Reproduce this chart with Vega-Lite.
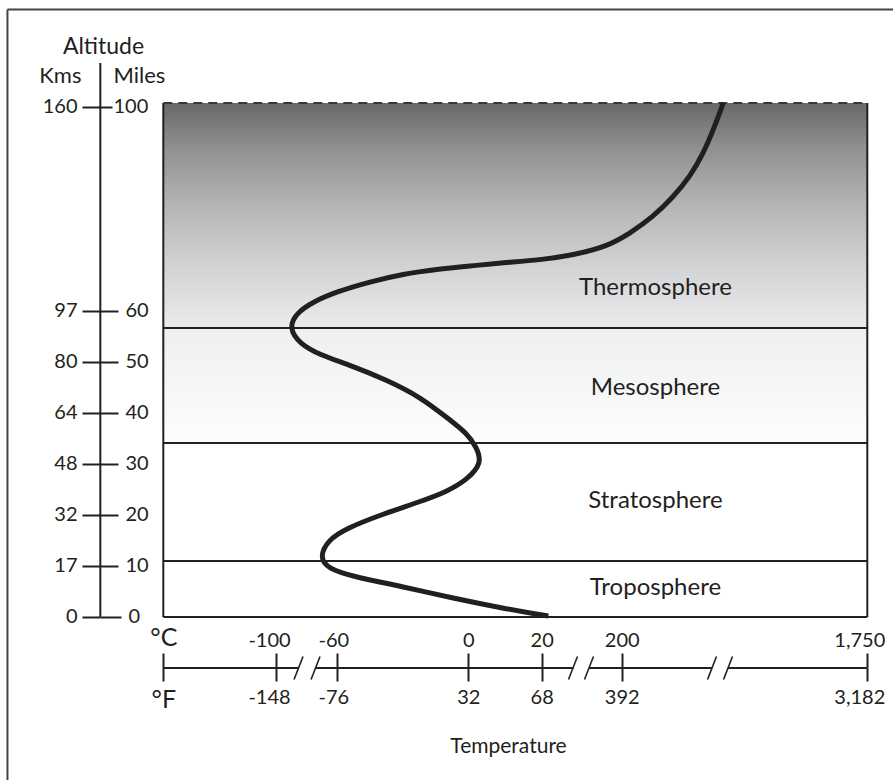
{
  "$schema": "https://vega.github.io/schema/vega-lite/v6.json",
  "width": 886,
  "height": 771,
  "autosize": {"type": "none"},
  "padding": {"left": 7, "top": 9, "right": 0, "bottom": 0},
  "background": "white",
  "config": {"view": {"stroke": null}, "font": "Lato", "text": {"font": "Lato"}},
  "datasets": {
    "layers": [
      {"name": "Troposphere", "base": 0, "top": 10.97},
      {"name": "Stratosphere", "base": 10.97, "top": 34.1},
      {"name": "Mesosphere", "base": 34.1, "top": 56.6},
      {"name": "Thermosphere", "base": 56.6, "top": 100.7}
    ],
    "labels": [
      {"label": "Thermosphere", "temp": 413, "alt": 63.1},
      {"label": "Mesosphere", "temp": 413, "alt": 43.5},
      {"label": "Stratosphere", "temp": 413, "alt": 21.4},
      {"label": "Troposphere", "temp": 413, "alt": 4.3}
    ],
    "profile": [
      {"temp": 35, "alt": 0.2},
      {"temp": 9.5, "alt": 1.7},
      {"temp": -6.9, "alt": 3.66},
      {"temp": -29.8, "alt": 5.94},
      {"temp": -52.7, "alt": 7.89},
      {"temp": -66.5, "alt": 9.54},
      {"temp": -71.5, "alt": 11.75},
      {"temp": -66.1, "alt": 15.08},
      {"temp": -55.7, "alt": 17.38},
      {"temp": -40.4, "alt": 19.98},
      {"temp": -22.1, "alt": 22.59},
      {"temp": -9.9, "alt": 24.54},
      {"temp": -0.7, "alt": 26.84},
      {"temp": 3.8, "alt": 30.11},
      {"temp": 2.2, "alt": 33.36},
      {"temp": -0.7, "alt": 35.98},
      {"temp": -8.4, "alt": 38.59},
      {"temp": -22.1, "alt": 43.15},
      {"temp": -37.4, "alt": 46.43},
      {"temp": -54.2, "alt": 49.36},
      {"temp": -71.3, "alt": 51.32},
      {"temp": -84.8, "alt": 53.61},
      {"temp": -91.5, "alt": 56.55},
      {"temp": -87, "alt": 59.49},
      {"temp": -75.7, "alt": 61.76},
      {"temp": -60.4, "alt": 63.72},
      {"temp": -45.0, "alt": 65.68},
      {"temp": -29.8, "alt": 67.19},
      {"temp": -14.5, "alt": 68.11},
      {"temp": 0.5, "alt": 68.76},
      {"temp": 9.5, "alt": 69.4},
      {"temp": 19.5, "alt": 69.93},
      {"temp": 91, "alt": 70.91},
      {"temp": 166, "alt": 72.54},
      {"temp": 252, "alt": 75.16},
      {"temp": 399, "alt": 78.41},
      {"temp": 526, "alt": 82.33},
      {"temp": 631, "alt": 86.25},
      {"temp": 715, "alt": 90.83},
      {"temp": 778, "alt": 95.4},
      {"temp": 841, "alt": 100.69}
    ],
    "breaks": [
      {"temp": -85.3}, {"temp": -74.2}, {"temp": 90.4}, {"temp": 126.4}, {"temp": 770}, {"temp": 871}
    ],
    "segments": [
      {"from": -173.5, "to": -85.3},
      {"from": -74.2, "to": 90.4},
      {"from": 126.4, "to": 770},
      {"from": 871, "to": 1750}
    ]
  },
  "resolve": {"axis": {"x": "independent", "y": "independent"}},
  "layer": [
    {
      "data": {"name": "layers"},
      "transform": [{"filter": "datum.name == 'Thermosphere'"}],
      "mark": {"type": "rect", "fill": {"gradient": "linear", "x1": 0, "y1": 0, "x2": 0, "y2": 1, "stops": [
        {"offset": 0, "color": "#67686a"},
        {"offset": 0.2, "color": "#8f9092"},
        {"offset": 0.45, "color": "#b3b4b6"},
        {"offset": 0.75, "color": "#d4d5d7"},
        {"offset": 1, "color": "#ebebec"}
      ]}},
      "encoding": {
        "x": {"datum": -173.5, "type": "quantitative", "axis": null,
          "scale": {"domain": [-276, -173.5, -100, -60, 0, 20, 200, 1750, 1914], "range": [0, 156.3, 269, 330.3, 461.3, 534.7, 614.7, 860.3, 886], "nice": false, "zero": false}},
        "x2": {"datum": 1750},
        "y": {"field": "base", "type": "quantitative",
          "scale": {"domain": [-31.93, 119.1], "nice": false, "zero": false},
          "axis": {"orient": "left", "offset": -93, "values": [0, 10, 20, 30, 40, 50, 60, 100], "domain": false, "grid": false,
            "tickSize": 18, "tickWidth": 2, "tickColor": "#231f20", "labelPadding": 5, "labelFont": "Lato", "labelFontSize": 20,
            "labelColor": "#231f20", "labelOverlap": false, "labelFlush": false, "labelBound": false,
            "labelExpr": "datum.value == 100 ? '160' : datum.value == 60 ? '97' : datum.value == 50 ? '80' : datum.value == 40 ? '64' : datum.value == 30 ? '48' : datum.value == 20 ? '32' : datum.value == 10 ? '17' : '0'",
            "title": "Kms", "titleAngle": 0, "titleAlign": "right", "titleBaseline": "alphabetic", "titleX": -19, "titleY": 73,
            "titleFont": "Lato", "titleFontSize": 22, "titleFontWeight": "normal", "titleColor": "#231f20"}},
        "y2": {"field": "top"}
      }
    },
    {
      "data": {"name": "layers"},
      "transform": [{"filter": "datum.name == 'Mesosphere'"}],
      "mark": {"type": "rect", "fill": {"gradient": "linear", "x1": 0, "y1": 0, "x2": 0, "y2": 1, "stops": [
        {"offset": 0, "color": "#eeeff0"},
        {"offset": 1, "color": "#fdfdfd"}
      ]}},
      "encoding": {
        "x": {"datum": -173.5, "type": "quantitative", "axis": null,
          "scale": {"domain": [-276, -173.5, -100, -60, 0, 20, 200, 1750, 1914], "range": [0, 156.3, 269, 330.3, 461.3, 534.7, 614.7, 860.3, 886], "nice": false, "zero": false}},
        "x2": {"datum": 1750},
        "y": {"field": "base", "type": "quantitative",
          "scale": {"domain": [-31.93, 119.1], "nice": false, "zero": false},
          "axis": {"orient": "right", "offset": -793, "values": [0, 10, 20, 30, 40, 50, 60, 100], "domain": false, "grid": false,
            "tickSize": {"condition": [{"test": "datum.value == 0", "value": 21}, {"test": "datum.value == 100", "value": 12}], "value": 18},
            "tickWidth": 2, "tickColor": "#231f20",
            "labelPadding": {"condition": {"test": "datum.value == 100", "value": 1}, "value": 7},
            "labelFont": "Lato", "labelFontSize": 20,
            "labelColor": "#231f20", "labelOverlap": false, "labelFlush": false, "labelBound": false,
            "title": "Miles", "titleAngle": 0, "titleAlign": "left", "titleBaseline": "alphabetic", "titleX": 13, "titleY": 73,
            "titleFont": "Lato", "titleFontSize": 22, "titleFontWeight": "normal", "titleColor": "#231f20"}},
        "y2": {"field": "top"}
      }
    },
    {
      "data": {"name": "layers"},
      "transform": [{"filter": "datum.top < 100"}],
      "mark": {"type": "rule", "stroke": "#231f20", "strokeWidth": 2},
      "encoding": {
        "x": {"datum": -173.5, "type": "quantitative", "axis": null,
          "scale": {"domain": [-276, -173.5, -100, -60, 0, 20, 200, 1750, 1914], "range": [0, 156.3, 269, 330.3, 461.3, 534.7, 614.7, 860.3, 886], "nice": false, "zero": false}},
        "x2": {"datum": 1750},
        "y": {"field": "top", "type": "quantitative", "axis": null,
          "scale": {"domain": [-31.93, 119.1], "nice": false, "zero": false}}
      }
    },
    {
      "data": {"values": [{}]},
      "mark": {"type": "rule", "stroke": "#231f20", "strokeWidth": 2},
      "encoding": {
        "x": {"datum": -173.5, "type": "quantitative", "axis": null,
          "scale": {"domain": [-276, -173.5, -100, -60, 0, 20, 200, 1750, 1914], "range": [0, 156.3, 269, 330.3, 461.3, 534.7, 614.7, 860.3, 886], "nice": false, "zero": false}},
        "y": {"datum": 0, "type": "quantitative", "axis": null,
          "scale": {"domain": [-31.93, 119.1], "nice": false, "zero": false}},
        "y2": {"datum": 100.7}
      }
    },
    {
      "data": {"values": [{}]},
      "mark": {"type": "rule", "stroke": "#231f20", "strokeWidth": 2},
      "encoding": {
        "x": {"datum": 1750, "type": "quantitative", "axis": null,
          "scale": {"domain": [-276, -173.5, -100, -60, 0, 20, 200, 1750, 1914], "range": [0, 156.3, 269, 330.3, 461.3, 534.7, 614.7, 860.3, 886], "nice": false, "zero": false}},
        "y": {"datum": 0, "type": "quantitative", "axis": null,
          "scale": {"domain": [-31.93, 119.1], "nice": false, "zero": false}},
        "y2": {"datum": 100.7}
      }
    },
    {
      "data": {"values": [{}]},
      "mark": {"type": "rule", "stroke": "#231f20", "strokeWidth": 2},
      "encoding": {
        "x": {"datum": -173.5, "type": "quantitative", "axis": null,
          "scale": {"domain": [-276, -173.5, -100, -60, 0, 20, 200, 1750, 1914], "range": [0, 156.3, 269, 330.3, 461.3, 534.7, 614.7, 860.3, 886], "nice": false, "zero": false}},
        "x2": {"datum": 1750},
        "y": {"datum": 0, "type": "quantitative", "axis": null,
          "scale": {"domain": [-31.93, 119.1], "nice": false, "zero": false}}
      }
    },
    {
      "data": {"values": [{}]},
      "mark": {"type": "rule", "stroke": "#3a3a3a", "strokeWidth": 2, "strokeDash": [9, 6]},
      "encoding": {
        "x": {"datum": -173.5, "type": "quantitative", "axis": null,
          "scale": {"domain": [-276, -173.5, -100, -60, 0, 20, 200, 1750, 1914], "range": [0, 156.3, 269, 330.3, 461.3, 534.7, 614.7, 860.3, 886], "nice": false, "zero": false}},
        "x2": {"datum": 1750},
        "y": {"datum": 100.7, "type": "quantitative", "axis": null,
          "scale": {"domain": [-31.93, 119.1], "nice": false, "zero": false}}
      }
    },
    {
      "data": {"values": [{}]},
      "mark": {"type": "rule", "stroke": "#444444", "strokeWidth": 2},
      "encoding": {
        "x": {"datum": -275.7, "type": "quantitative", "axis": null,
          "scale": {"domain": [-276, -173.5, -100, -60, 0, 20, 200, 1750, 1914], "range": [0, 156.3, 269, 330.3, 461.3, 534.7, 614.7, 860.3, 886], "nice": false, "zero": false}},
        "x2": {"datum": 1914},
        "y": {"datum": 119.0, "type": "quantitative", "axis": null,
          "scale": {"domain": [-31.93, 119.1], "nice": false, "zero": false}}
      }
    },
    {
      "data": {"values": [{}]},
      "mark": {"type": "rule", "stroke": "#444444", "strokeWidth": 2},
      "encoding": {
        "x": {"datum": -275.7, "type": "quantitative", "axis": null,
          "scale": {"domain": [-276, -173.5, -100, -60, 0, 20, 200, 1750, 1914], "range": [0, 156.3, 269, 330.3, 461.3, 534.7, 614.7, 860.3, 886], "nice": false, "zero": false}},
        "y": {"datum": -31.93, "type": "quantitative", "axis": null,
          "scale": {"domain": [-31.93, 119.1], "nice": false, "zero": false}},
        "y2": {"datum": 119.0}
      }
    },
    {
      "data": {"values": [{}]},
      "mark": {"type": "rule", "stroke": "#231f20", "strokeWidth": 2},
      "encoding": {
        "x": {"datum": -214.8, "type": "quantitative", "axis": null,
          "scale": {"domain": [-276, -173.5, -100, -60, 0, 20, 200, 1750, 1914], "range": [0, 156.3, 269, 330.3, 461.3, 534.7, 614.7, 860.3, 886], "nice": false, "zero": false}},
        "y": {"datum": 0, "type": "quantitative",
          "scale": {"domain": [-31.93, 119.1], "nice": false, "zero": false},
          "axis": {"orient": "left", "offset": -93, "domain": false, "grid": false, "ticks": false, "labels": false,
            "title": "Altitude", "titleAngle": 0, "titleAlign": "center", "titleBaseline": "alphabetic", "titleX": 3, "titleY": 44,
            "titleFont": "Lato", "titleFontSize": 23, "titleFontWeight": "normal", "titleColor": "#231f20"}},
        "y2": {"datum": 108.5}
      }
    },
    {
      "data": {"name": "profile"},
      "mark": {"type": "line", "stroke": "#231f20", "strokeWidth": 5, "interpolate": "basis", "strokeCap": "butt"},
      "encoding": {
        "x": {"field": "temp", "type": "quantitative", "axis": null,
          "scale": {"domain": [-276, -173.5, -100, -60, 0, 20, 200, 1750, 1914], "range": [0, 156.3, 269, 330.3, 461.3, 534.7, 614.7, 860.3, 886], "nice": false, "zero": false}},
        "y": {"field": "alt", "type": "quantitative", "axis": null,
          "scale": {"domain": [-31.93, 119.1], "nice": false, "zero": false}},
        "order": {"field": "alt", "type": "quantitative"}
      }
    },
    {
      "data": {"name": "labels"},
      "mark": {"type": "text", "font": "Lato", "fontSize": 24, "align": "center", "baseline": "alphabetic", "color": "#231f20"},
      "encoding": {
        "x": {"field": "temp", "type": "quantitative", "axis": null,
          "scale": {"domain": [-276, -173.5, -100, -60, 0, 20, 200, 1750, 1914], "range": [0, 156.3, 269, 330.3, 461.3, 534.7, 614.7, 860.3, 886], "nice": false, "zero": false}},
        "y": {"field": "alt", "type": "quantitative", "axis": null,
          "scale": {"domain": [-31.93, 119.1], "nice": false, "zero": false}},
        "text": {"field": "label", "type": "nominal"}
      }
    },
    {
      "data": {"name": "segments"},
      "mark": {"type": "rule", "stroke": "#231f20", "strokeWidth": 2},
      "encoding": {
        "x": {"field": "from", "type": "quantitative",
          "scale": {"domain": [-276, -173.5, -100, -60, 0, 20, 200, 1750, 1914], "range": [0, 156.3, 269, 330.3, 461.3, 534.7, 614.7, 860.3, 886], "nice": false, "zero": false},
          "axis": {"orient": "bottom", "offset": -112, "values": [-173.5, -100, -60, 0, 20, 200, 1750], "domain": false, "grid": false,
            "tickSize": 13, "tickWidth": 2, "tickColor": "#231f20", "labelPadding": 6, "labelFont": "Lato",
            "labelFontSize": {"condition": {"test": "datum.value < -150", "value": 25}, "value": 20},
            "labelOffset": {"condition": [{"test": "datum.value == -100", "value": -7}, {"test": "datum.value == -60", "value": -4}, {"test": "datum.value == 1750", "value": -8}], "value": 0},
            "labelColor": "#231f20", "labelOverlap": false, "labelFlush": false, "labelBound": false,
            "labelExpr": "datum.value < -150 ? '°F' : (datum.value * 9 / 5 + 32 < 0 ? '-' + format(-(datum.value * 9 / 5 + 32), ',') : format(datum.value * 9 / 5 + 32, ','))",
            "title": "Temperature", "titleAlign": "center", "titleBaseline": "alphabetic", "titleX": 501, "titleY": 84,
            "titleFont": "Lato", "titleFontSize": 21, "titleFontWeight": "normal", "titleColor": "#231f20"}},
        "x2": {"field": "to"},
        "y": {"datum": -10, "type": "quantitative", "axis": null,
          "scale": {"domain": [-31.93, 119.1], "nice": false, "zero": false}}
      }
    },
    {
      "data": {"name": "breaks"},
      "mark": {"type": "point", "shape": "M-0.39,1L0.39,-1", "size": 529, "filled": false, "stroke": "#231f20", "strokeWidth": 1.6, "opacity": 1},
      "encoding": {
        "x": {"field": "temp", "type": "quantitative",
          "scale": {"domain": [-276, -173.5, -100, -60, 0, 20, 200, 1750, 1914], "range": [0, 156.3, 269, 330.3, 461.3, 534.7, 614.7, 860.3, 886], "nice": false, "zero": false},
          "axis": {"orient": "top", "offset": -659, "values": [-173.5, -100, -60, 0, 20, 200, 1750], "domain": false, "grid": false,
            "tickSize": 15, "tickWidth": 2, "tickColor": "#231f20", "labelPadding": 3, "labelFont": "Lato",
            "labelFontSize": {"condition": {"test": "datum.value < -150", "value": 25}, "value": 20},
            "labelOffset": {"condition": [{"test": "datum.value == -100", "value": -7}, {"test": "datum.value == -60", "value": -4}, {"test": "datum.value == 1750", "value": -8}], "value": 0},
            "labelColor": "#231f20", "labelOverlap": false, "labelFlush": false, "labelBound": false,
            "labelExpr": "datum.value < -150 ? '°C' : (datum.value < 0 ? '-' + format(-datum.value, ',') : format(datum.value, ','))",
            "title": null}},
        "y": {"datum": -10, "type": "quantitative", "axis": null,
          "scale": {"domain": [-31.93, 119.1], "nice": false, "zero": false}}
      }
    }
  ]
}
